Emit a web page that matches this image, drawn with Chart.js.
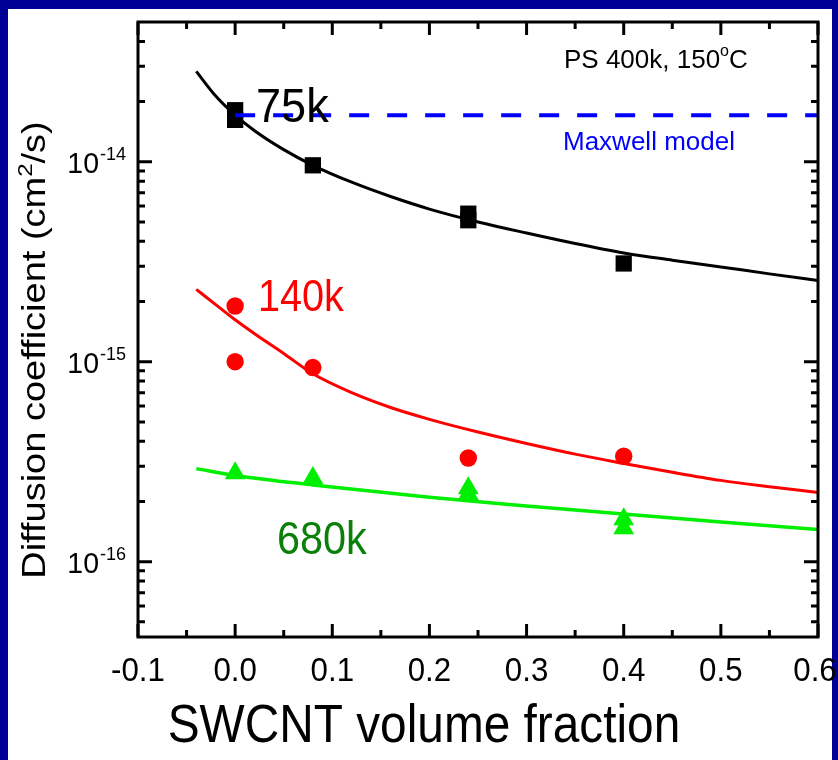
<!DOCTYPE html>
<html>
<head>
<meta charset="utf-8">
<script src="https://cdn.jsdelivr.net/npm/chart.js@4.4.1/dist/chart.umd.min.js"></script>
<style>
  html, body { margin: 0; padding: 0; background: #000096; }
  #wrap { width: 838px; height: 760px; position: relative; }
</style>
</head>
<body>
<div id="wrap"><canvas id="chart" width="838" height="760"></canvas></div>
<script>
// --- values ---
const xTickValues = [-0.1, 0.0, 0.1, 0.2, 0.3, 0.4, 0.5, 0.6];
const xTickLabels = ["-0.1", "0.0", "0.1", "0.2", "0.3", "0.4", "0.5", "0.6"];
const yTickValues = [1e-14, 1e-15, 1e-16];
const yTickExponents = ["-14", "-15", "-16"];

// measured points
const phi75 = [0, 0, 0.08, 0.24, 0.24, 0.40];
const d75 = [1.81e-14, 1.62e-14, 9.6e-15, 5.5e-15, 5.1e-15, 3.1e-15];
const phi140 = [0, 0, 0.08, 0.24, 0.40];
const d140 = [1.9e-15, 1.0e-15, 9.35e-16, 3.3e-16, 3.37e-16];
const phi680 = [0, 0.08, 0.24, 0.24, 0.40, 0.40];
const d680 = [2.77e-16, 2.62e-16, 2.33e-16, 2.18e-16, 1.63e-16, 1.47e-16];

// fitted curves
const fitPhi = [-0.04, -0.02, 0, 0.02, 0.05, 0.08, 0.12, 0.16, 0.2, 0.25, 0.3, 0.35, 0.4, 0.45, 0.5, 0.55, 0.6];
const fit75 = [2.83e-14, 2.13e-14, 1.71e-14, 1.43e-14, 1.15e-14, 9.6e-15, 7.9e-15, 6.7e-15, 5.8e-15, 5.0e-15, 4.4e-15, 3.9e-15, 3.5e-15, 3.22e-15, 2.98e-15, 2.75e-15, 2.55e-15];
const fit140 = [2.3e-15, 1.93e-15, 1.62e-15, 1.38e-15, 1.1e-15, 8.7e-16, 7.0e-16, 5.9e-16, 5.15e-16, 4.45e-16, 3.9e-16, 3.45e-16, 3.1e-16, 2.8e-16, 2.55e-16, 2.37e-16, 2.22e-16];
const fitPhi680 = [-0.04, 0, 0.08, 0.2, 0.3, 0.4, 0.5, 0.6];
const fit680 = [2.92e-16, 2.7e-16, 2.42e-16, 2.1e-16, 1.9e-16, 1.73e-16, 1.58e-16, 1.45e-16];

// Maxwell model (flat)
const maxwellPhi = [0, 0.6];
const maxwellD = [1.71e-14, 1.71e-14];

const FONT = "'Liberation Sans', Arial, sans-serif";

function pts(xs, ys) {
  return xs.map((x, i) => ({ x: x, y: ys[i] }));
}

// text made of parts: [text, size, rise]; sx squeezes it sideways
function drawParts(c, parts, x, y, align, sx) {
  sx = sx || 1;
  let total = 0;
  parts.forEach(p => {
    c.font = p[1] + "px " + FONT;
    p.w = c.measureText(p[0]).width;
    total += p.w;
  });
  c.save();
  c.translate(x, y);
  c.scale(sx, 1);
  let cx = align === "center" ? -total / 2 : (align === "right" ? -total : 0);
  c.textAlign = "left";
  c.textBaseline = "alphabetic";
  parts.forEach(p => {
    c.font = p[1] + "px " + FONT;
    c.fillText(p[0], cx, -(p[2] || 0));
    cx += p.w;
  });
  c.restore();
}

const decor = {
  id: "decor",
  beforeDraw(chart) {
    const c = chart.ctx;
    c.save();
    c.fillStyle = "#000096";
    c.fillRect(0, 0, chart.width, chart.height);
    c.fillStyle = "#ffffff";
    c.fillRect(8, 9, 824, 751);
    c.restore();
  },
  afterDatasetsDraw(chart) {
    const c = chart.ctx;
    const a = chart.chartArea;
    const xs = chart.scales.x;
    const ys = chart.scales.y;
    c.save();

    // frame
    c.strokeStyle = "#000";
    c.lineWidth = 3;
    c.strokeRect(a.left, a.top, a.right - a.left, a.bottom - a.top);

    // x ticks (inward, top and bottom)
    xTickValues.forEach((v, i) => {
      const px = xs.getPixelForValue(v);
      c.beginPath();
      c.moveTo(px, a.bottom); c.lineTo(px, a.bottom - 13);
      c.moveTo(px, a.top); c.lineTo(px, a.top + 13);
      c.stroke();
      if (i < xTickValues.length - 1) {
        const pm = xs.getPixelForValue((v + xTickValues[i + 1]) / 2);
        c.beginPath();
        c.moveTo(pm, a.bottom); c.lineTo(pm, a.bottom - 7);
        c.moveTo(pm, a.top); c.lineTo(pm, a.top + 7);
        c.stroke();
      }
    });

    // y ticks (log, inward, left and right)
    for (let e = -17; e <= -14; e++) {
      for (let m = 1; m <= 9; m++) {
        const v = m * Math.pow(10, e);
        if (v < ys.min * 1.01 || v > ys.max * 0.99) continue;
        const py = ys.getPixelForValue(v);
        const len = m === 1 ? 14 : 7;
        c.beginPath();
        c.moveTo(a.left, py); c.lineTo(a.left + len, py);
        c.moveTo(a.right, py); c.lineTo(a.right - len, py);
        c.stroke();
      }
    }

    // x tick labels
    c.fillStyle = "#000";
    xTickValues.forEach((v, i) => {
      drawParts(c, [[xTickLabels[i], 34]], xs.getPixelForValue(v) - (i === xTickValues.length - 1 ? 3 : 0), 681, "center", 0.92);
    });

    // y tick labels 10^n
    yTickValues.forEach((v, i) => {
      const py = ys.getPixelForValue(v);
      drawParts(c, [["10", 30]], 99, py + 11, "right", 0.95);
      drawParts(c, [[yTickExponents[i], 19]], 100, py - 2, "left", 0.95);
    });

    // axis titles
    drawParts(c, [["SWCNT volume fraction", 54]], 424, 742, "center", 0.885);
    c.save();
    c.translate(45, 350);
    c.rotate(-Math.PI / 2);
    c.scale(1, 0.85);
    drawParts(c, [["Diffusion coefficient (cm", 38], ["2", 24, 15], ["/s)", 38]], 0, 0, "center");
    c.restore();

    // annotations
    c.fillStyle = "#000";
    drawParts(c, [["75k", 49]], 256, 122, "left", 0.92);
    drawParts(c, [["PS 400k, 150", 26], ["o", 16, 12], ["C", 26]], 564, 68, "left");
    c.fillStyle = "#0000ff";
    drawParts(c, [["Maxwell model", 26]], 563, 150, "left");
    c.fillStyle = "#ff0000";
    drawParts(c, [["140k", 44]], 258, 311, "left", 0.9);
    c.fillStyle = "#0a800a";
    drawParts(c, [["680k", 46]], 277, 554, "left", 0.9);

    c.restore();
  }
};

new Chart(document.getElementById("chart"), {
  type: "scatter",
  data: {
    datasets: [
      {
        label: "Maxwell model",
        data: pts(maxwellPhi, maxwellD),
        showLine: true,
        borderColor: "#0000ff",
        borderWidth: 4,
        borderDash: [20, 18],
        pointRadius: 0
      },
      {
        label: "75k",
        data: pts(phi75, d75),
        pointStyle: "rect",
        pointRadius: 11.5,
        backgroundColor: "#000",
        borderColor: "#000",
        borderWidth: 0
      },
      {
        label: "140k",
        data: pts(phi140, d140),
        pointStyle: "circle",
        pointRadius: 8.7,
        backgroundColor: "#ff0000",
        borderColor: "#ff0000",
        borderWidth: 0
      },
      {
        label: "680k",
        data: pts(phi680, d680),
        pointStyle: "triangle",
        pointRadius: 12,
        backgroundColor: "#00ee00",
        borderColor: "#00ee00",
        borderWidth: 0
      },
      {
        label: "75k fit",
        data: pts(fitPhi, fit75),
        showLine: true,
        borderColor: "#000",
        borderWidth: 3,
        pointRadius: 0,
        cubicInterpolationMode: "monotone"
      },
      {
        label: "140k fit",
        data: pts(fitPhi, fit140),
        showLine: true,
        borderColor: "#ff0000",
        borderWidth: 3,
        pointRadius: 0,
        cubicInterpolationMode: "monotone"
      },
      {
        label: "680k fit",
        data: pts(fitPhi680, fit680),
        showLine: true,
        borderColor: "#00ee00",
        borderWidth: 3.5,
        pointRadius: 0,
        cubicInterpolationMode: "monotone"
      }
    ]
  },
  options: {
    responsive: false,
    animation: false,
    events: [],
    layout: { padding: { top: 22, right: 20, left: 0, bottom: 0 } },
    plugins: { legend: { display: false }, tooltip: { enabled: false } },
    scales: {
      x: {
        type: "linear",
        min: -0.1,
        max: 0.6,
        grid: { display: false },
        border: { display: false },
        ticks: { display: false },
        afterFit(s) { s.height = 123; }
      },
      y: {
        type: "logarithmic",
        min: 4.2e-17,
        max: 5e-14,
        grid: { display: false },
        border: { display: false },
        ticks: { display: false },
        afterFit(s) { s.width = 138; }
      }
    }
  },
  plugins: [decor]
});
</script>
</body>
</html>
